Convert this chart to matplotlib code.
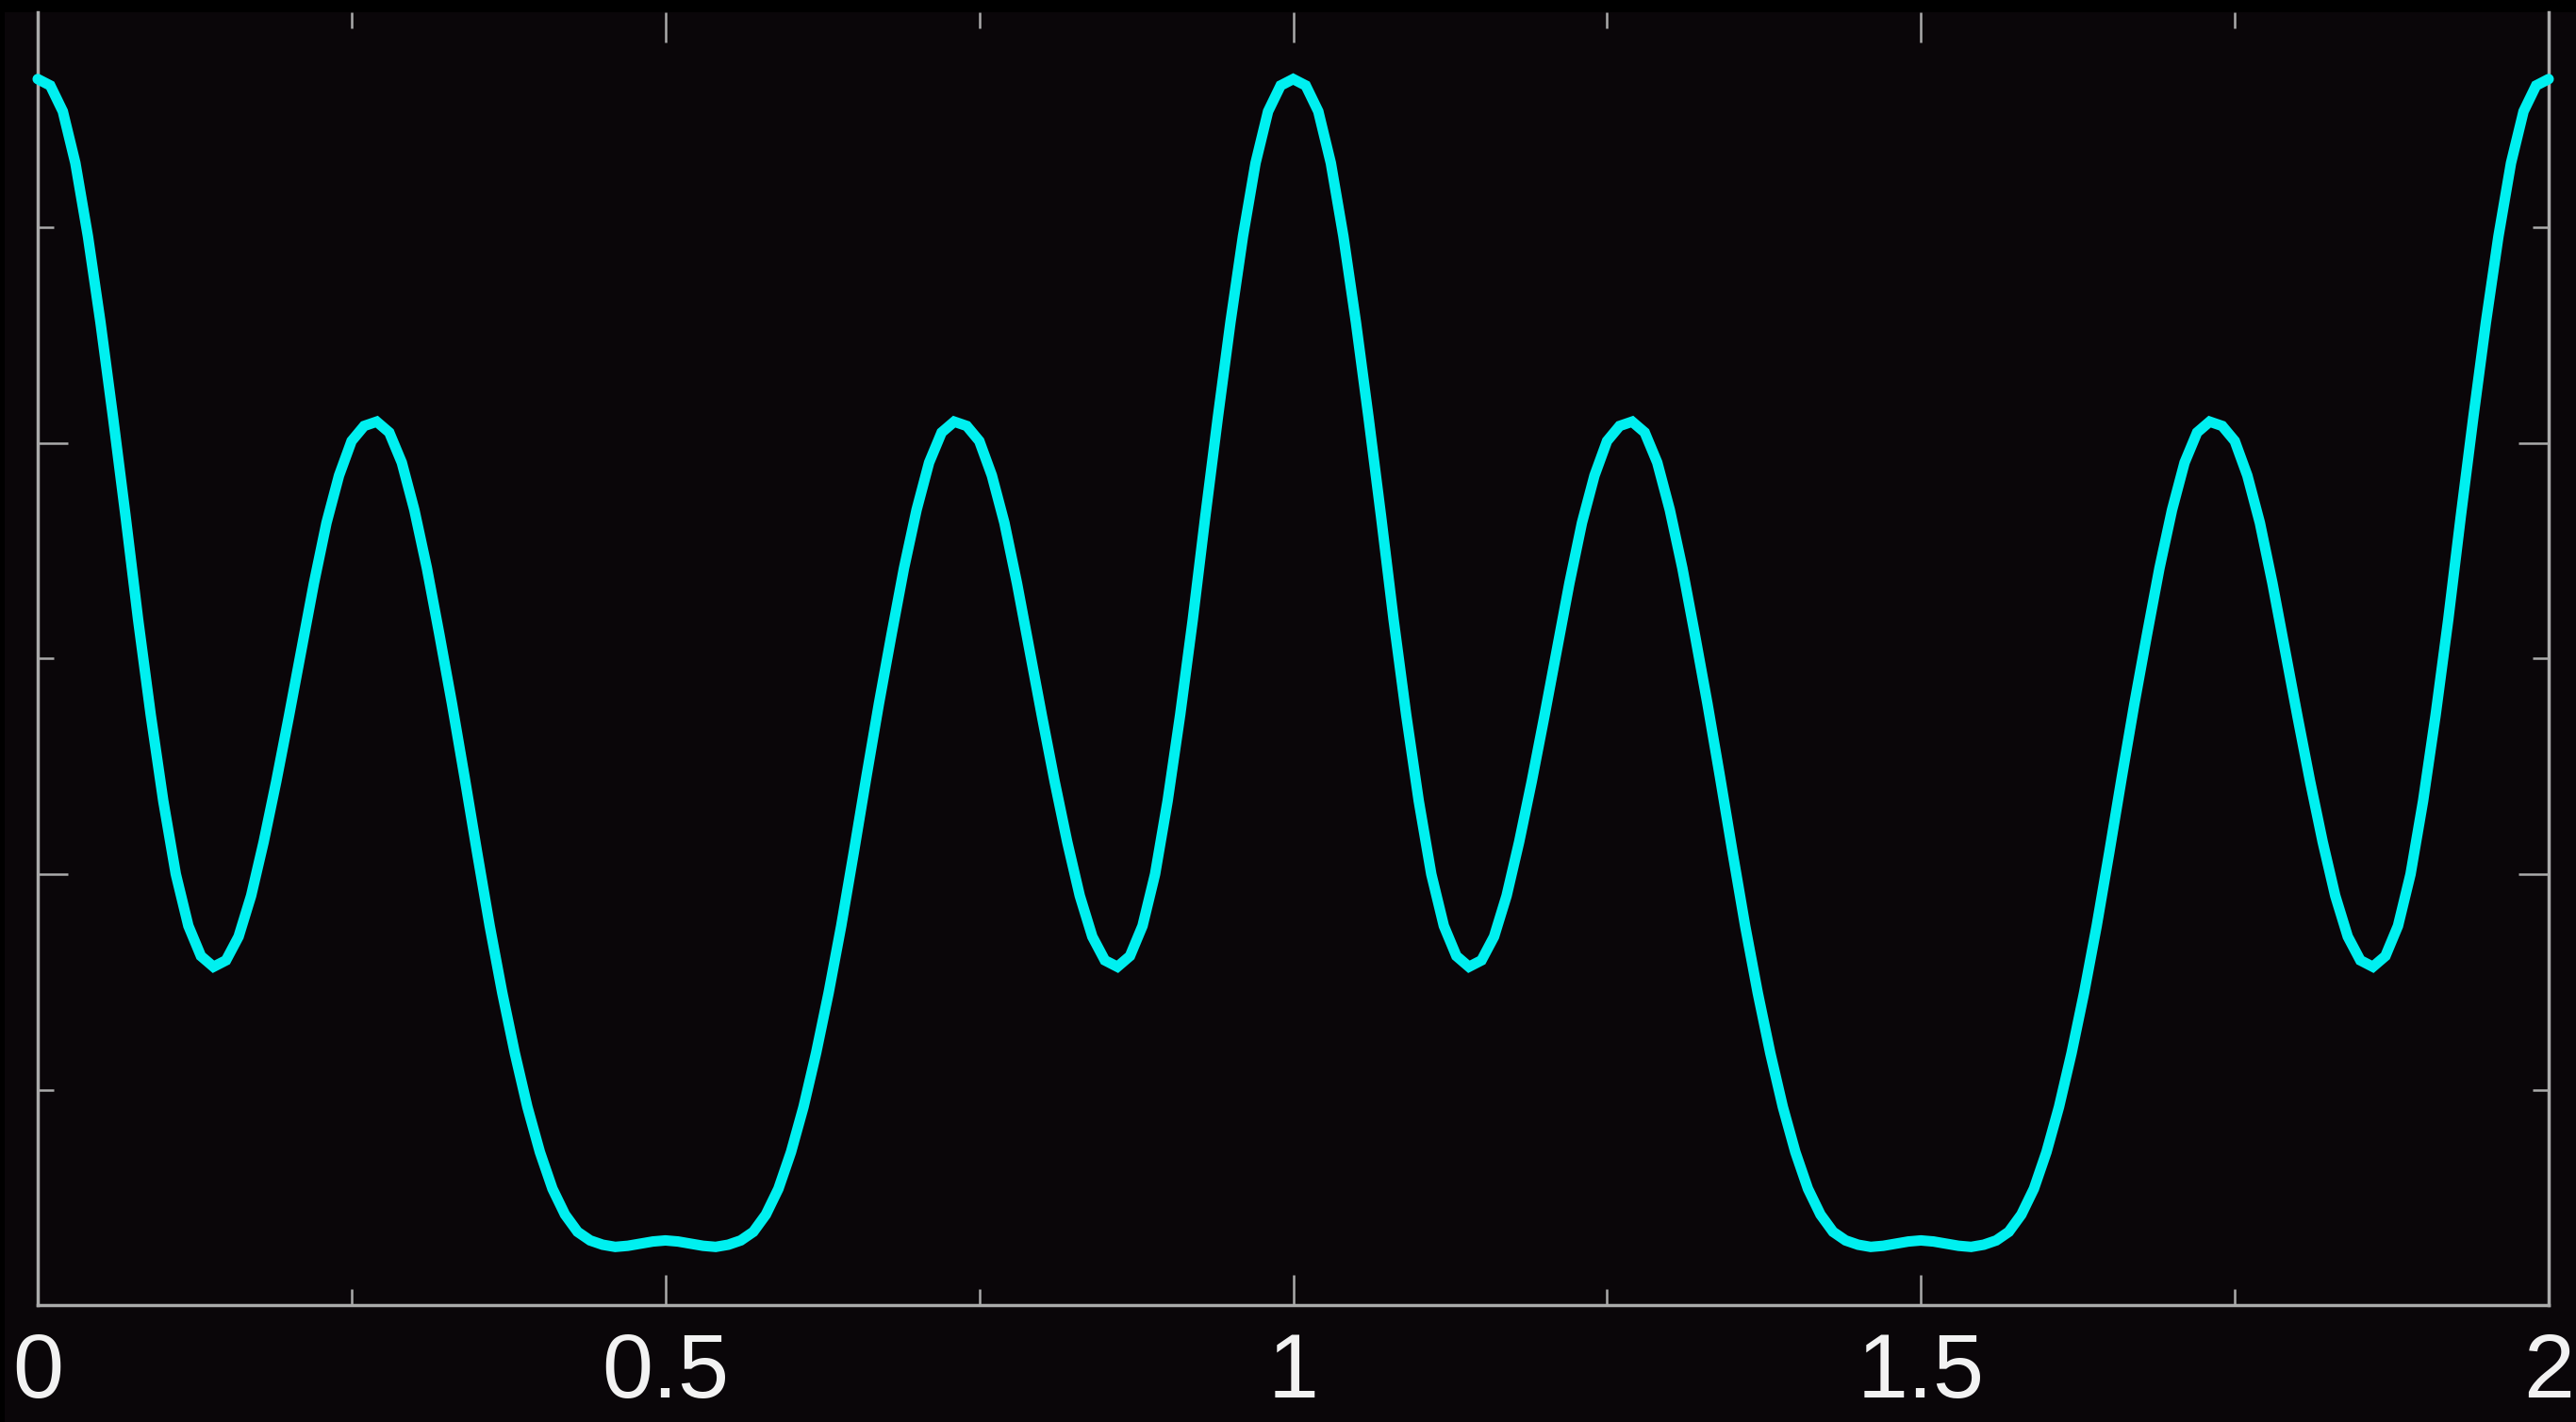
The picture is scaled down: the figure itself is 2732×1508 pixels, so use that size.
import numpy as np
import matplotlib
matplotlib.use("Agg")
import matplotlib.pyplot as plt
from matplotlib.patches import Rectangle
from matplotlib.ticker import FixedLocator

# ---- data (x step 0.01) ----
y_seg1 = [2.69, 2.66, 2.54, 2.30, 1.96, 1.56, 1.12, 0.66, 0.18, -0.26,
          -0.66, -1.00, -1.24, -1.38, -1.43, -1.40, -1.29, -1.10, -0.85, -0.57,
          -0.27, 0.04, 0.35, 0.63, 0.85, 1.01, 1.08, 1.10, 1.05, 0.91,
          0.69, 0.42, 0.11, -0.21, -0.55, -0.90, -1.24, -1.55, -1.83, -2.08,
          -2.29, -2.46, -2.58, -2.66, -2.70, -2.72, -2.73, -2.725, -2.715, -2.705,
          -2.70]                                   # x = 0.00 .. 0.50
y_seg2 = [-2.705, -2.715, -2.725, -2.73, -2.72, -2.70, -2.66, -2.58, -2.46, -2.29,
          -2.08, -1.83, -1.55, -1.24, -0.90, -0.55, -0.21, 0.11, 0.42, 0.69,
          0.91, 1.05, 1.10, 1.08, 1.01, 0.85, 0.63, 0.35, 0.04, -0.27,
          -0.57, -0.85, -1.10, -1.29, -1.40, -1.43, -1.38, -1.24, -1.00, -0.66,
          -0.26, 0.18, 0.66, 1.12, 1.56, 1.96, 2.30, 2.54, 2.66, 2.69]  # x = 0.51 .. 1.00
y_seg3 = [2.66, 2.54, 2.30, 1.96, 1.56, 1.12, 0.66, 0.18, -0.26,
          -0.66, -1.00, -1.24, -1.38, -1.43, -1.40, -1.29, -1.10, -0.85, -0.57,
          -0.27, 0.04, 0.35, 0.63, 0.85, 1.01, 1.08, 1.10, 1.05, 0.91,
          0.69, 0.42, 0.11, -0.21, -0.55, -0.90, -1.24, -1.55, -1.83, -2.08,
          -2.29, -2.46, -2.58, -2.66, -2.70, -2.72, -2.73, -2.725, -2.715, -2.705,
          -2.70]                                   # x = 1.01 .. 1.50
y_seg4 = [-2.705, -2.715, -2.725, -2.73, -2.72, -2.70, -2.66, -2.58, -2.46, -2.29,
          -2.08, -1.83, -1.55, -1.24, -0.90, -0.55, -0.21, 0.11, 0.42, 0.69,
          0.91, 1.05, 1.10, 1.08, 1.01, 0.85, 0.63, 0.35, 0.04, -0.27,
          -0.57, -0.85, -1.10, -1.29, -1.40, -1.43, -1.38, -1.24, -1.00, -0.66,
          -0.26, 0.18, 0.66, 1.12, 1.56, 1.96, 2.30, 2.54, 2.66, 2.69]  # x = 1.51 .. 2.00

x_start, x_end = 0.0, 2.0
x_major = [0, 0.5, 1, 1.5, 2]
x_major_labels = ["0", "0.5", "1", "1.5", "2"]
x_minor = [0.25, 0.75, 1.25, 1.75]
y_major = [-1, 1]
y_minor = [-2, 0, 2]

y_vals = np.array(y_seg1 + y_seg2 + y_seg3 + y_seg4)
x_vals = np.linspace(x_start, x_end, len(y_vals))

# ---- style ----
BG = "#0a0609"
LINE = "#00f0f0"
SPINE = "#ababab"
TXT = "#f2f2f2"

W, H = 2732, 1508
fig = plt.figure(figsize=(W / 100, H / 100), dpi=100, facecolor=BG)
ax = fig.add_axes([40 / W, 1 - 1384 / H, (2703 - 40) / W, (1384 - 13) / H])
ax.set_facecolor(BG)

ax.plot(x_vals, y_vals, color=LINE, lw=8.0, solid_capstyle="round",
        solid_joinstyle="miter", clip_on=False, zorder=3)

ax.set_xlim(x_start, x_end)
ax.set_ylim(-3, 3)

for s in ax.spines.values():
    s.set_color(SPINE)
    s.set_linewidth(2.5)
ax.spines["top"].set_visible(False)

ax.xaxis.set_major_locator(FixedLocator(x_major))
ax.set_xticklabels(x_major_labels)
ax.xaxis.set_minor_locator(FixedLocator(x_minor))
ax.yaxis.set_major_locator(FixedLocator(y_major))
ax.yaxis.set_minor_locator(FixedLocator(y_minor))

ax.tick_params(axis="both", which="both", direction="in", color=SPINE,
               top=True, right=True, labelleft=False)
ax.tick_params(axis="both", which="major", length=23, width=1.8)
ax.tick_params(axis="both", which="minor", length=12, width=1.8)
ax.tick_params(axis="x", which="major", labelsize=70, labelcolor=TXT, pad=20)
for lab in ax.get_xticklabels():
    lab.set_family("Liberation Sans")

# thin pure-black bands at the top and left edges
fig.add_artist(Rectangle((0, 1 - 13 / H), 1, 13 / H, transform=fig.transFigure,
                         facecolor="black", edgecolor="none", zorder=0))
fig.add_artist(Rectangle((0, 0), 5 / W, 1, transform=fig.transFigure,
                         facecolor="black", edgecolor="none", zorder=0))

fig.savefig("out.png", dpi=100, facecolor=BG)
